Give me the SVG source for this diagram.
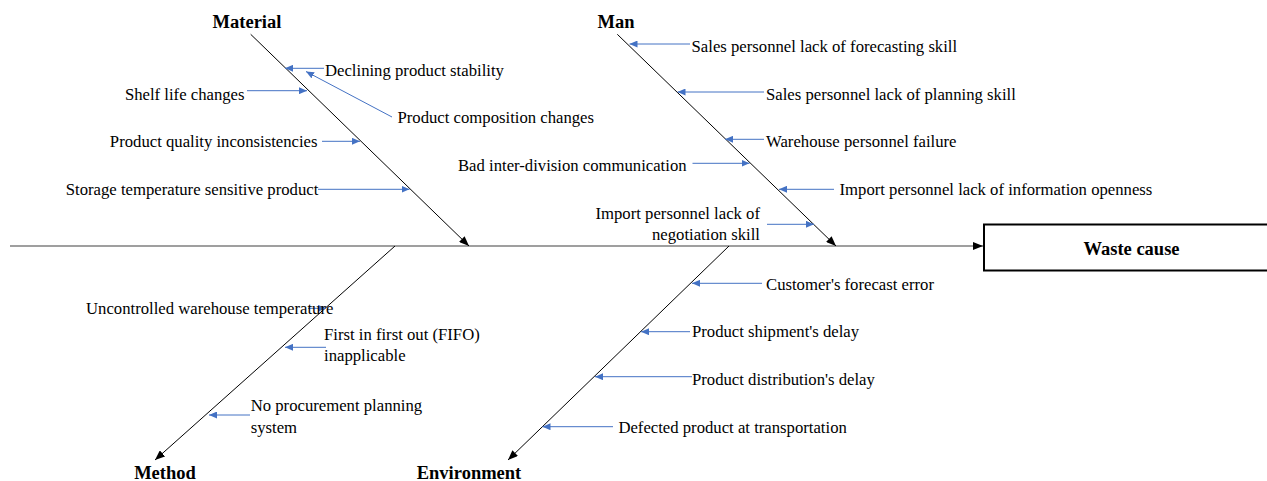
<svg xmlns="http://www.w3.org/2000/svg" width="1267" height="481" viewBox="0 0 1267 481">
<style>
.t{font-family:"Liberation Serif","Times New Roman",serif;font-size:16.7px;fill:#000}
.b{font-family:"Liberation Serif","Times New Roman",serif;font-size:18.5px;font-weight:bold;fill:#000}
.e{text-anchor:end}
.m{text-anchor:middle}
.bone{stroke:#000;stroke-width:1;fill:none}
.spine{stroke:#7f7f7f;stroke-width:1.6;fill:none}
.cause{stroke:#4472C4;stroke-width:1;fill:none}
</style>
<defs>
<marker id="ab" markerUnits="userSpaceOnUse" markerWidth="10" markerHeight="8" refX="10" refY="4" orient="auto"><path d="M0,0 L10,4 L0,8 z" fill="#000"/></marker>
<marker id="au" markerUnits="userSpaceOnUse" markerWidth="8" markerHeight="7" refX="8" refY="3.5" orient="auto"><path d="M0,0 L8,3.5 L0,7 z" fill="#4472C4"/></marker>
</defs>
<rect width="1267" height="481" fill="#fff"/>
<g id="connectors">
<line class="spine" x1="10" y1="246" x2="983" y2="246" marker-end="url(#ab)"/>
<line class="bone" x1="250.7" y1="34.3" x2="469" y2="246" marker-end="url(#ab)"/>
<line class="bone" x1="617.3" y1="34.3" x2="836" y2="246" marker-end="url(#ab)"/>
<line class="bone" x1="395" y1="246" x2="155" y2="460" marker-end="url(#ab)"/>
<line class="bone" x1="729" y1="246" x2="508" y2="460" marker-end="url(#ab)"/>
<line class="cause" x1="324" y1="68.3" x2="285" y2="68.3" marker-end="url(#au)"/>
<line class="cause" x1="392" y1="117" x2="306" y2="71.5" marker-end="url(#au)"/>
<line class="cause" x1="247" y1="90.7" x2="307" y2="90.7" marker-end="url(#au)"/>
<line class="cause" x1="322" y1="141.3" x2="360" y2="141.3" marker-end="url(#au)"/>
<line class="cause" x1="318" y1="189.3" x2="409.5" y2="189.3" marker-end="url(#au)"/>
<line class="cause" x1="690" y1="44" x2="629.5" y2="44" marker-end="url(#au)"/>
<line class="cause" x1="764" y1="92" x2="677.5" y2="92" marker-end="url(#au)"/>
<line class="cause" x1="764" y1="139.3" x2="725" y2="139.3" marker-end="url(#au)"/>
<line class="cause" x1="692.5" y1="163.3" x2="749.5" y2="163.3" marker-end="url(#au)"/>
<line class="cause" x1="834" y1="189.3" x2="779" y2="189.3" marker-end="url(#au)"/>
<line class="cause" x1="767" y1="224.3" x2="814" y2="224.3" marker-end="url(#au)"/>
<line class="cause" x1="308" y1="308.3" x2="326" y2="308.3" marker-end="url(#au)"/>
<line class="cause" x1="326" y1="347.3" x2="285" y2="347.3" marker-end="url(#au)"/>
<line class="cause" x1="250" y1="415" x2="209" y2="415" marker-end="url(#au)"/>
<line class="cause" x1="762" y1="283.3" x2="692" y2="283.3" marker-end="url(#au)"/>
<line class="cause" x1="690" y1="331.7" x2="641" y2="331.7" marker-end="url(#au)"/>
<line class="cause" x1="692" y1="376.7" x2="595" y2="376.7" marker-end="url(#au)"/>
<line class="cause" x1="613" y1="426.7" x2="542.5" y2="426.7" marker-end="url(#au)"/>
</g>
<g id="effect">
<rect x="984" y="224.5" width="296" height="46" fill="#fff" stroke="#000" stroke-width="2"/>
<text class="b m" x="1131.5" y="255">Waste cause</text>
</g>
<g id="cat-material"><text class="b m" x="247" y="28">Material</text></g>
<g id="cat-man"><text class="b m" x="616" y="28">Man</text></g>
<g id="cat-method"><text class="b m" x="165" y="479">Method</text></g>
<g id="cat-environment"><text class="b m" x="469" y="479">Environment</text></g>
<g id="cause-material-1"><text class="t" x="325" y="76">Declining product stability</text></g>
<g id="cause-material-2"><text class="t" x="397.5" y="123">Product composition changes</text></g>
<g id="cause-material-3"><text class="t e" x="244.5" y="100.3">Shelf life changes</text></g>
<g id="cause-material-4"><text class="t e" x="317.5" y="147">Product quality inconsistencies</text></g>
<g id="cause-material-5"><text class="t e" x="318.3" y="195.3">Storage temperature sensitive product</text></g>
<g id="cause-man-1"><text class="t" x="691.6" y="52">Sales personnel lack of forecasting skill</text></g>
<g id="cause-man-2"><text class="t" x="766" y="100.3">Sales personnel lack of planning skill</text></g>
<g id="cause-man-3"><text class="t" x="766" y="147">Warehouse personnel failure</text></g>
<g id="cause-man-4"><text class="t e" x="686.6" y="171">Bad inter-division communication</text></g>
<g id="cause-man-5"><text class="t" x="839.5" y="195.3">Import personnel lack of information openness</text></g>
<g id="cause-man-6"><text class="t e" x="760" y="218.6">Import personnel lack of</text><text class="t e" x="760" y="240.3">negotiation skill</text></g>
<g id="cause-method-1"><text class="t" x="86" y="314.3">Uncontrolled warehouse temperature</text></g>
<g id="cause-method-2"><text class="t" x="324" y="340.3">First in first out (FIFO)</text><text class="t" x="324" y="361.3">inapplicable</text></g>
<g id="cause-method-3"><text class="t" x="250.7" y="411">No procurement planning</text><text class="t" x="250.7" y="432.6">system</text></g>
<g id="cause-env-1"><text class="t" x="766" y="289.6">Customer's forecast error</text></g>
<g id="cause-env-2"><text class="t" x="692" y="337">Product shipment's delay</text></g>
<g id="cause-env-3"><text class="t" x="692" y="384.6">Product distribution's delay</text></g>
<g id="cause-env-4"><text class="t" x="618.4" y="433">Defected product at transportation</text></g>
</svg>
